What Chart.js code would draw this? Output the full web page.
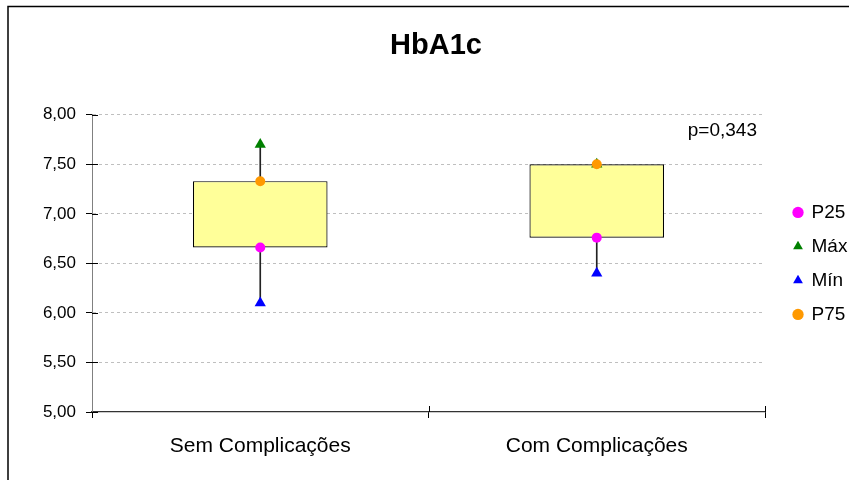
<!DOCTYPE html>
<html>
<head>
<meta charset="utf-8">
<script src="https://cdn.jsdelivr.net/npm/chart.js@4/dist/chart.umd.min.js"></script>
<style>
  html, body { margin: 0; padding: 0; background: #fff; overflow: hidden; }
  #wrap { position: relative; width: 849px; height: 480px; }
</style>
</head>
<body>
<div id="wrap"><canvas id="c" width="849" height="480"></canvas></div>
<script>
const chartTitle = 'HbA1c';
const categories = ['Sem Complicações', 'Com Complicações'];
const p25 = [6.66, 6.76];
const p75 = [7.33, 7.50];
const maxV = [7.70, 7.50];
const minV = [6.10, 6.40];
const yTicks = [5.0, 5.5, 6.0, 6.5, 7.0, 7.5, 8.0];
const pText = 'p=0,343';

const FONT = '"Liberation Sans", Arial, Helvetica, sans-serif';

const boxData = categories.map((c, i) => [p25[i], p75[i]]);
const whiskerData = categories.map((c, i) => [minV[i], maxV[i]]);

const extras = {
  id: 'extras',
  beforeDraw(chart) {
    const ctx = chart.ctx;
    ctx.save();
    ctx.fillStyle = '#fff';
    ctx.fillRect(0, 0, chart.width, chart.height);
    ctx.restore();
  },
  afterDraw(chart) {
    const ctx = chart.ctx;
    const a = chart.chartArea;
    const xs = chart.scales.x, ys = chart.scales.y;
    ctx.save();
    // inner halves of the crossing tick marks
    ctx.strokeStyle = '#000';
    ctx.lineWidth = 1;
    ctx.beginPath();
    yTicks.forEach(v => {
      const y = Math.round(ys.getPixelForValue(v)) + 0.5;
      ctx.moveTo(a.left, y); ctx.lineTo(a.left + 6, y);
    });
    for (let i = 1; i <= categories.length; i++) {
      const x = Math.round(xs.getPixelForValue(i - 0.5)) + 0.5;
      ctx.moveTo(x, a.bottom); ctx.lineTo(x, a.bottom - 6);
    }
    ctx.stroke();
    // p-value annotation
    ctx.fillStyle = '#000';
    ctx.font = '19px ' + FONT;
    ctx.textAlign = 'right';
    ctx.textBaseline = 'middle';
    ctx.fillText(pText, a.right - 8, a.top + 16);
    // outer frame
    ctx.strokeStyle = '#000';
    ctx.lineWidth = 1.5;
    ctx.strokeRect(8, 6.5, chart.width + 20, chart.height + 20);
    ctx.restore();
  }
};

new Chart(document.getElementById('c'), {
  data: {
    labels: categories,
    datasets: [
      {
        type: 'bar', label: 'whisker', data: whiskerData,
        backgroundColor: '#222', borderWidth: 0,
        barThickness: 1, grouped: false, order: 3
      },
      {
        type: 'bar', label: 'box', data: boxData,
        backgroundColor: '#FFFF99', borderColor: '#000', borderWidth: 1.2,
        borderSkipped: false, categoryPercentage: 1, barPercentage: 0.4,
        grouped: false, order: 2
      },
      {
        type: 'line', label: 'P25', data: p25, showLine: false,
        pointStyle: 'circle', pointRadius: 5, pointHoverRadius: 5,
        backgroundColor: '#FF00FF', borderColor: '#FF00FF', pointBorderWidth: 0, order: 1
      },
      {
        type: 'line', label: 'Máx', data: maxV, showLine: false,
        pointStyle: 'triangle', pointRadius: 6.5, pointHoverRadius: 6.5,
        backgroundColor: '#008000', borderColor: '#008000', pointBorderWidth: 0, order: 1
      },
      {
        type: 'line', label: 'Mín', data: minV, showLine: false,
        pointStyle: 'triangle', pointRadius: 6.5, pointHoverRadius: 6.5,
        backgroundColor: '#0000FF', borderColor: '#0000FF', pointBorderWidth: 0, order: 1
      },
      {
        type: 'line', label: 'P75', data: p75, showLine: false,
        pointStyle: 'circle', pointRadius: 5, pointHoverRadius: 5,
        backgroundColor: '#FF9900', borderColor: '#FF9900', pointBorderWidth: 0, order: 0
      }
    ]
  },
  options: {
    responsive: false,
    animation: false,
    events: [],
    layout: { padding: { left: 23, right: 0, top: 0, bottom: 0 } },
    plugins: {
      title: {
        display: true, text: chartTitle, color: '#000',
        font: { family: FONT, size: 29, weight: 'bold' },
        padding: { top: 29, bottom: 51 }
      },
      legend: {
        position: 'right', align: 'center', fullSize: false, maxWidth: 70,
        labels: {
          usePointStyle: true, boxWidth: 8, boxHeight: 8, padding: 15,
          color: '#000', font: { family: FONT, size: 19 },
          filter: item => item.datasetIndex >= 2,
          sort: (a, b) => a.datasetIndex - b.datasetIndex
        }
      },
      tooltip: { enabled: false }
    },
    scales: {
      x: {
        type: 'category', offset: true,
        grid: { display: true, drawOnChartArea: false, offset: true, tickLength: 6, color: '#000', tickColor: '#000' },
        border: { display: true, color: '#333', width: 1.2 },
        ticks: { color: '#000', padding: 16, font: { family: FONT, size: 21 } },
        afterFit: s => { s.height = 68; }
      },
      y: {
        type: 'linear', min: 5, max: 8,
        afterBuildTicks: s => { s.ticks = yTicks.map(v => ({ value: v })); },
        grid: { color: c => c.tick && c.tick.value === 5 ? 'rgba(0,0,0,0)' : '#BFBFBF', tickColor: '#000', tickLength: 6, lineWidth: 1 },
        border: { display: true, color: '#808080', width: 1, dash: [3, 3] },
        ticks: { color: '#000', padding: 10, font: { family: FONT, size: 17 },
          callback: v => Number(v).toFixed(2).replace('.', ',') },
        afterFit: s => { s.width = 69; }
      },
      y2: {
        type: 'linear', position: 'right', display: true,
        grid: { display: false }, border: { display: false },
        ticks: { display: false },
        afterFit: s => { s.width = 14; }
      }
    }
  },
  plugins: [extras]
});
</script>
</body>
</html>
